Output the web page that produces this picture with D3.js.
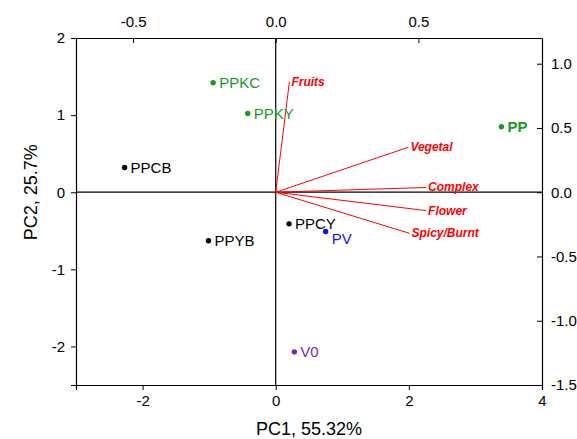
<!DOCTYPE html>
<html>
<head>
<meta charset="utf-8">
<script src="https://cdn.jsdelivr.net/npm/d3@7"></script>
<style>
  body { margin: 0; background: #fff; }
  svg { font-family: "Liberation Sans", Arial, sans-serif; }
  .axis path, .axis line { stroke: #000; }
  .axis text { font-size: 15px; fill: #000; }
</style>
</head>
<body>
<div id="canvas"></div>
<script>
// scores (bottom / left axes)
var sampleNames = ['PPKC', 'PPKY', 'PPCB', 'PPYB', 'PPCY', 'PV', 'PP', 'V0'];
var sampleX = [-0.94, -0.42, -2.27, -1.01, 0.20, 0.75, 3.39, 0.28];
var sampleY = [1.42, 1.02, 0.32, -0.63, -0.41, -0.51, 0.85, -2.07];
var sampleGroup = ['K', 'K', 'C', 'C', 'C', 'V', 'K', 'O'];

// loadings (top / right axes)
var loadNames = ['Fruits', 'Vegetal', 'Complex', 'Flower', 'Spicy/Burnt'];
var loadX = [0.048, 0.465, 0.527, 0.527, 0.469];
var loadY = [0.86, 0.35, 0.037, -0.143, -0.32];

var bottomTicks = [-2, 0, 2, 4];
var leftTicks = [-2, -1, 0, 1, 2];
var topTicks = [-0.5, 0.0, 0.5];
var rightTicks = [-1.5, -1.0, -0.5, 0.0, 0.5, 1.0];

var groupColor = {K: '#1a9a1a', C: '#000000', V: '#1010ff', O: '#7a1fc0'};

var W = 577, H = 439;
var m = {t: 38, r: 35, b: 54, l: 76};
var w = W - m.l - m.r,
    h = H - m.t - m.b;

var svg = d3.select('#canvas').append('svg')
    .attr('width', W)
    .attr('height', H);
var plot = svg.append('g')
    .attr('transform', 'translate(' + m.l + ',' + m.t + ')');

var x = d3.scaleLinear().domain([-3, 4]).range([0, w]);
var y = d3.scaleLinear().domain([-2.5, 2]).range([h, 0]);
var x2 = d3.scaleLinear().domain([-0.7, 0.9333]).range([0, w]);
var y2 = d3.scaleLinear().domain([-1.5, 1.2]).range([h, 0]);

function fmt1(d) { return d3.format('.1f')(d).replace('−', '-'); }

// bottom axis
var gB = plot.append('g').attr('class', 'axis')
    .attr('transform', 'translate(0,' + h + ')');
gB.call(d3.axisBottom(x).tickValues([-3, -1, 1, 3]).tickSize(3).tickFormat(''));
gB.call(d3.axisBottom(x).tickValues(bottomTicks).tickSize(5).tickPadding(5).tickFormat(d3.format('d')));
gB.selectAll('text').text(function(d){ return String(d); });

// left axis
var gL = plot.append('g').attr('class', 'axis');
gL.call(d3.axisLeft(y).tickValues([-1.5, -0.5, 0.5, 1.5]).tickSize(3).tickFormat(''));
gL.call(d3.axisLeft(y).tickValues(leftTicks).tickSize(5).tickPadding(6));
gL.selectAll('text').text(function(d){ return String(d); });

// top axis (ticks inward)
var gT = plot.append('g').attr('class', 'axis');
gT.call(d3.axisTop(x2).tickValues([-0.25, 0.25, 0.75]).tickSizeInner(-5).tickSizeOuter(0).tickFormat(''));
gT.call(d3.axisTop(x2).tickValues(topTicks).tickSizeInner(-5).tickSizeOuter(0).tickPadding(11).tickFormat(fmt1));

// right axis (ticks inward)
var gR = plot.append('g').attr('class', 'axis')
    .attr('transform', 'translate(' + w + ',0)');
gR.call(d3.axisRight(y2).tickValues([-1.25, -0.75, -0.25, 0.25, 0.75]).tickSizeInner(-5).tickSizeOuter(0).tickFormat(''));
gR.call(d3.axisRight(y2).tickValues(rightTicks).tickSizeInner(-5).tickSizeOuter(0).tickPadding(9).tickFormat(fmt1));

plot.selectAll('.axis path').attr('stroke-width', 1.2);

// zero lines
plot.append('line')
    .attr('x1', x(0)).attr('x2', x(0))
    .attr('y1', 0).attr('y2', h)
    .attr('stroke', '#000').attr('stroke-width', 1.2);
plot.append('line')
    .attr('x1', 0).attr('x2', w)
    .attr('y1', y(0)).attr('y2', y(0))
    .attr('stroke', '#000').attr('stroke-width', 1.2);

// loading vectors
var loads = loadNames.map(function(n, i){ return {name: n, x: loadX[i], y: loadY[i]}; });
plot.selectAll('.vec').data(loads).enter().append('line')
    .attr('class', 'vec')
    .attr('x1', x2(0)).attr('y1', y2(0))
    .attr('x2', function(d){ return x2(d.x); })
    .attr('y2', function(d){ return y2(d.y); })
    .attr('stroke', '#ff0000').attr('stroke-width', 1);
plot.selectAll('.vlab').data(loads).enter().append('text')
    .attr('class', 'vlab')
    .attr('x', function(d){ return x2(d.x) + 2; })
    .attr('y', function(d){ return y2(d.y) + 4; })
    .attr('fill', '#ff0000')
    .style('font-size', '12px')
    .style('font-weight', 'bold')
    .style('font-style', 'italic')
    .text(function(d){ return d.name; });

// sample points
var samples = sampleNames.map(function(n, i){ return {name: n, x: sampleX[i], y: sampleY[i], g: sampleGroup[i]}; });
plot.selectAll('.pt').data(samples).enter().append('circle')
    .attr('class', 'pt')
    .attr('cx', function(d){ return x(d.x); })
    .attr('cy', function(d){ return y(d.y); })
    .attr('r', 2.7)
    .attr('fill', function(d){ return groupColor[d.g]; });
plot.selectAll('.plab').data(samples).enter().append('text')
    .attr('class', 'plab')
    .attr('x', function(d){ return x(d.x) + 6; })
    .attr('y', function(d){ return y(d.y) + (d.name == 'PV' ? 12 : 5); })
    .attr('fill', function(d){ return groupColor[d.g]; })
    .style('font-size', '15px')
    .style('font-weight', function(d){ return d.name == 'PP' ? 'bold' : 'normal'; })
    .text(function(d){ return d.name; });

// axis titles
svg.append('text')
    .attr('x', m.l + x(0.5)).attr('y', 435)
    .attr('text-anchor', 'middle')
    .style('font-size', '18px')
    .text('PC1, 55.32%');
svg.append('text')
    .attr('transform', 'translate(37,' + (m.t + y(0)) + ') rotate(-90)')
    .attr('text-anchor', 'middle')
    .style('font-size', '18px')
    .text('PC2, 25.7%');
</script>
</body>
</html>
